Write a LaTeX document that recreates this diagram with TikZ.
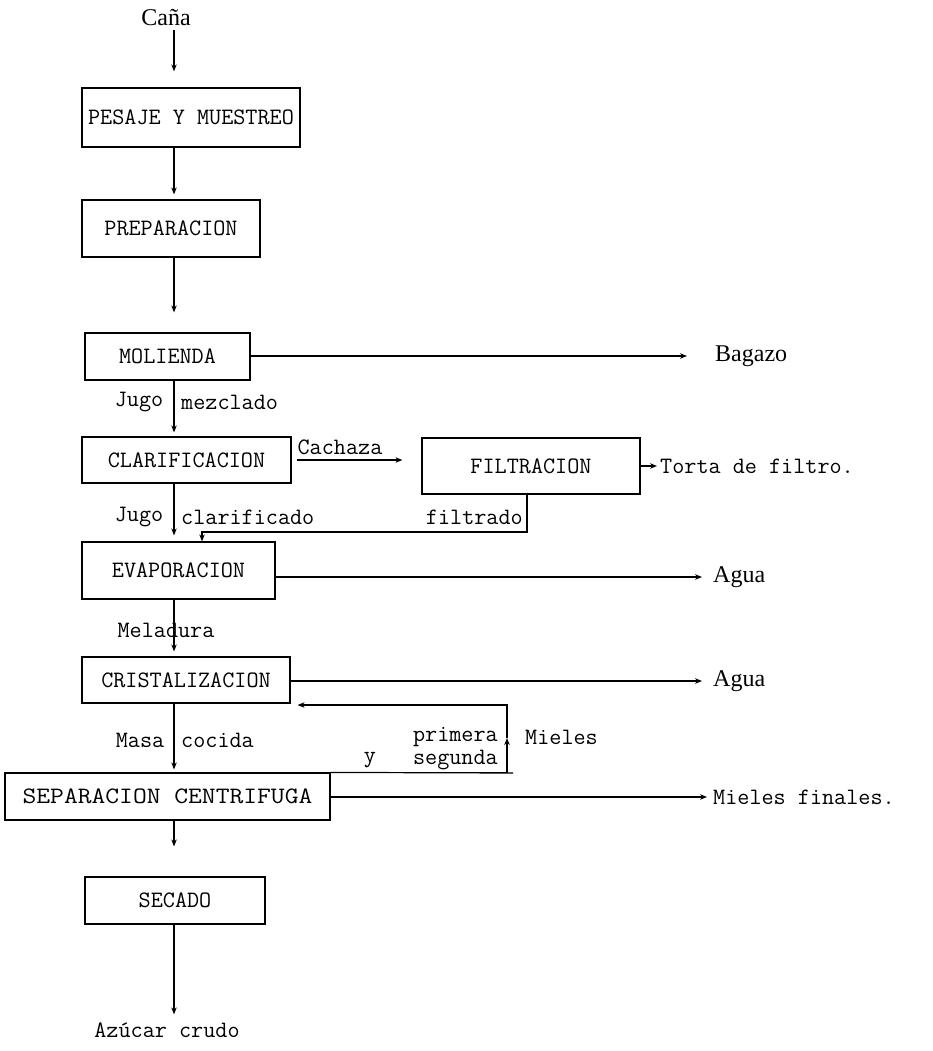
\documentclass[tikz,border=0pt]{standalone}
\usepackage{fontspec}
\usepackage{graphicx}
\newfontfamily\serifl{Liberation Serif}
\usetikzlibrary{arrows.meta,calc}
\begin{document}
\begin{tikzpicture}[x=1pt,y=-1pt,
  box/.style={draw, line width=1.2pt, inner sep=0pt, font=\fontsize{23.5}{26}\selectfont\ttfamily},
  lbl/.style={inner sep=0pt, font=\fontsize{23.5}{26}\selectfont\ttfamily},
  slbl/.style={inner sep=0pt, font=\fontsize{24}{26}\selectfont\serifl},
  arr/.style={line width=1.2pt, -{Stealth[length=7pt,width=5.5pt]}},
  ln/.style={line width=1.2pt}]
\useasboundingbox (0,0) rectangle (932,1051);
\coordinate (spine) at (174,0);
% boxes
\node[box, minimum width=218pt, minimum height=59pt] (pesaje) at (191,117.5) {PESAJE Y MUESTREO};
\node[box, minimum width=178pt, minimum height=57pt] (prep) at (171,228.5) {PREPARACION};
\node[box, minimum width=165pt, minimum height=47pt] (mol) at (167.5,356.5) {MOLIENDA};
\node[box, minimum width=209pt, minimum height=46pt] (clar) at (186.5,460) {CLARIFICACION};
\node[box, minimum width=218pt, minimum height=56pt] (filt) at (531,466) {FILTRACION};
\node[box, minimum width=193pt, minimum height=57pt] (evap) at (178.5,570.5) {EVAPORACION};
\node[box, minimum width=208pt, minimum height=46pt] (crist) at (186,680) {CRISTALIZACION};
\node[box, minimum width=325pt, minimum height=47pt] (sep) at (167.5,796.5) {\scalebox{1.14}[1]{SEPARACION CENTRIFUGA}};
\node[box, minimum width=180pt, minimum height=47pt] (sec) at (175,900.5) {SECADO};
% labels
\node[slbl] (cana) at (166,18) {Caña};
\node[lbl] (jugo1) at (139,402) {Jugo};
\node[lbl, anchor=west] (mezc) at (181,402) {mezclado};
\node[lbl] (cach) at (340,447) {Cachaza};
\node[lbl] (jugo2) at (139,517) {Jugo};
\node[lbl, anchor=west] (clarif) at (181,517) {clarificado};
\node[lbl, anchor=east] (filtr) at (523,517) {filtrado};
\node[lbl] (mela) at (166,630) {Meladura};
\node[lbl] (masa) at (140,740) {Masa};
\node[lbl, anchor=west] (coc) at (181,740) {cocida};
\node[lbl, anchor=east] (prim) at (498,737) {primera};
\node[lbl, anchor=east] (segu) at (498,760) {segunda};
\node[lbl] (ylbl) at (370,760) {y};
\node[lbl, anchor=west] (miel) at (525,737) {Mieles};
\node[lbl] (azu) at (167,1030) {Azúcar crudo};
\node[slbl, anchor=west] (bag) at (715,356) {Bagazo};
\node[slbl, anchor=west] (agua1) at (713,577) {Agua};
\node[slbl, anchor=west] (agua2) at (713,681) {Agua};
\node[lbl, anchor=west] (mf) at (713,797) {Mieles finales.};
\node[lbl, anchor=west] (torta) at (660,466) {Torta de filtro.};
% main line
\draw[arr, shorten <=4pt, shorten >=16pt] (cana.south -| spine) -- (pesaje.north -| spine);
\draw[arr, shorten >=5pt] (pesaje.south -| spine) -- (prep.north -| spine);
\draw[arr, shorten >=20pt] (prep.south -| spine) -- (mol.north -| spine);
\draw[arr, shorten >=4pt] (mol.south -| spine) -- (clar.north -| spine);
\draw[arr, shorten >=6pt] (clar.south -| spine) -- (evap.north -| spine);
\draw[arr, shorten >=5pt] (evap.south -| spine) -- (crist.north -| spine);
\draw[arr, shorten >=3pt] (crist.south -| spine) -- (sep.north -| spine);
\draw[arr, shorten >=30pt] (sep.south -| spine) -- (sec.north -| spine);
\draw[arr, shorten >=8pt] (sec.south -| spine) -- (azu.north -| spine);
% side streams
\draw[arr, shorten >=28pt] (mol.east |- bag) -- (bag.west);
\draw[arr, shorten <=5pt, shorten >=19pt] (clar.east) -- (clar.east -| filt.west);
\draw[arr, shorten >=3pt] (filt.east |- torta) -- (torta.west);
\coordinate (fj) at (527,532);
\draw[arr] (filt.south -| fj) -- (fj) -| ([xshift=23.5pt]evap.north);
\draw[arr, shorten >=11pt] (evap.east |- agua1) -- (agua1.west);
\draw[arr, shorten >=11pt] (crist.east |- agua2) -- (agua2.west);
\draw[arr, shorten >=6pt] (sep.east |- mf) -- (mf.west);
% mieles return
\coordinate (mmid) at (507,738);
\coordinate (mtop) at (507,705);
\coordinate (mend) at (513,773);
\draw[ln] (sep.north east) -- (mend);
\draw[arr] (sep.north east) -| (mmid);
\draw[arr, shorten >=7pt] (mmid) |- (crist.east |- mtop);
\end{tikzpicture}
\end{document}
